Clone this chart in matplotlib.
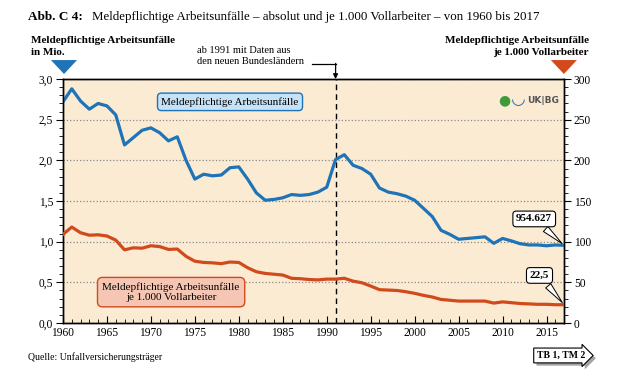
import matplotlib.pyplot as plt
import matplotlib.patheffects as pe
from matplotlib.patches import Polygon
from matplotlib.ticker import MultipleLocator, FuncFormatter

plt.rcParams['font.family'] = ['Liberation Serif', 'DejaVu Serif']

years = list(range(1960, 2018))

# meldepflichtige Arbeitsunfaelle in Mio.
unfaelle_mio = [2.72, 2.88, 2.73, 2.63, 2.70, 2.67, 2.56, 2.19, 2.28, 2.37,
                2.40, 2.34, 2.24, 2.29, 2.00, 1.77, 1.83, 1.81, 1.82, 1.91,
                1.92, 1.77, 1.60, 1.51, 1.52, 1.54, 1.58, 1.57, 1.58, 1.61,
                1.67, 2.01, 2.07, 1.94, 1.90, 1.83, 1.66, 1.61, 1.59, 1.56,
                1.51, 1.41, 1.31, 1.14, 1.09, 1.03, 1.04, 1.05, 1.06, 0.98,
                1.04, 1.01, 0.975, 0.96, 0.96, 0.95, 0.96, 0.955]

# je 1.000 Vollarbeiter
unfaelle_je_1000 = [109, 118, 111, 108, 108.5, 107, 102, 90, 92.5, 92,
                    95, 94, 90.5, 91, 82, 76, 74.5, 74, 73, 75,
                    74.5, 68, 63, 61, 60, 59, 55, 54.5, 53.5, 53,
                    54, 54, 55, 51.5, 49.5, 45.5, 41, 40.5, 40, 38.5,
                    36.5, 34, 32, 29, 28, 27, 27, 27, 27, 24.5,
                    26, 25, 24, 23.5, 23, 23, 22.5, 22.5]

blue = '#1f73b7'
orange = '#d24a1c'

fig = plt.figure(figsize=(6.21, 3.73), dpi=100)
ax = fig.add_axes([0.1014, 0.134, 0.807, 0.654])
ax.set_facecolor('#fbebd3')
ax2 = ax.twinx()

ax.plot(years, unfaelle_mio, color=blue, lw=2.3, solid_joinstyle='round', zorder=3)
ax2.plot(years, unfaelle_je_1000, color=orange, lw=2.3, solid_joinstyle='round', zorder=3)

ax.set_xlim(1960, 2017)
ax.set_ylim(0, 3)
ax2.set_ylim(0, 300)

ax.yaxis.set_major_locator(MultipleLocator(0.5))
ax.yaxis.set_minor_locator(MultipleLocator(0.1))
ax.yaxis.set_major_formatter(FuncFormatter(lambda v, p: f'{v:.1f}'.replace('.', ',')))
ax2.yaxis.set_major_locator(MultipleLocator(50))
ax2.yaxis.set_minor_locator(MultipleLocator(10))
ax.xaxis.set_major_locator(MultipleLocator(5))
ax.xaxis.set_minor_locator(MultipleLocator(1))

ax.tick_params(axis='y', which='major', length=5, width=0.8, labelsize=8.3, pad=2)
ax.tick_params(axis='y', which='minor', length=3, width=0.6)
ax2.tick_params(axis='y', which='major', length=5, width=0.8, labelsize=8.3, pad=2)
ax2.tick_params(axis='y', which='minor', length=3, width=0.6)
ax.tick_params(axis='x', which='major', direction='in', length=5, width=0.8, labelsize=8.3, pad=3)
ax.tick_params(axis='x', which='minor', direction='in', length=3, width=0.6)

ax.grid(axis='y', which='major', color='#888888', linestyle=':', linewidth=0.9)
ax.set_axisbelow(True)
for a in (ax, ax2):
    for s in a.spines.values():
        s.set_linewidth(1.0)

ax.axvline(1991, color='black', linestyle=(0, (4, 3)), lw=1.0, zorder=2)

# Serienbeschriftungen
ax.text(1979, 2.72, 'Meldepflichtige Arbeitsunfälle', fontsize=8, ha='center', va='center',
        bbox=dict(boxstyle='round,pad=0.35', fc='#c5e2f6', ec=blue, lw=1.0), zorder=5)
ax.text(1972.3, 0.38, 'Meldepflichtige Arbeitsunfälle\nje 1.000 Vollarbeiter', fontsize=8,
        ha='center', va='center', linespacing=1.1,
        bbox=dict(boxstyle='round,pad=0.45', fc='#f6c6b4', ec=orange, lw=1.0), zorder=5)

# Endwerte
ax.annotate('954.627', xy=(2017, unfaelle_mio[-1]), xytext=(2013.6, 1.28),
            fontsize=8, fontweight='bold', ha='center', va='center',
            bbox=dict(boxstyle='round,pad=0.3', fc='white', ec='black', lw=0.8),
            arrowprops=dict(arrowstyle='wedge,tail_width=0.6', fc='white', ec='black', lw=0.7),
            zorder=6)
ax2.annotate('22,5', xy=(2017, unfaelle_je_1000[-1]), xytext=(2014.2, 58.5),
             fontsize=8, fontweight='bold', ha='center', va='center',
             bbox=dict(boxstyle='round,pad=0.3', fc='white', ec='black', lw=0.8),
             arrowprops=dict(arrowstyle='wedge,tail_width=0.6', fc='white', ec='black', lw=0.7),
             zorder=6)

# Logo-Ersatz
ax.text(2010.2, 2.74, '●', color='#3f9a3a', fontsize=10, ha='center', va='center',
        family='DejaVu Sans')
ax.text(2011.8, 2.76, '◡', color=blue, fontsize=12, fontweight='bold', ha='center',
        va='center', family='DejaVu Sans')
ax.text(2012.8, 2.74, 'UK|BG', color='#555555', fontsize=6.5, fontweight='bold',
        ha='left', va='center', family='DejaVu Sans')

# Titel und Achsenbeschriftungen
fig.text(0.045, 0.955, 'Abb. C 4:', fontsize=9.5, fontweight='bold', va='center')
fig.text(0.148, 0.955, 'Meldepflichtige Arbeitsunfälle – absolut und je 1.000 Vollarbeiter – von 1960 bis 2017',
         fontsize=9.3, va='center')
fig.text(0.05, 0.876, 'Meldepflichtige Arbeitsunfälle\nin Mio.', fontsize=8, fontweight='bold',
         va='center', ha='left', linespacing=1.4)
fig.text(0.948, 0.876, 'Meldepflichtige Arbeitsunfälle\nje 1.000 Vollarbeiter', fontsize=8,
         fontweight='bold', va='center', ha='right', linespacing=1.4)
fig.text(0.318, 0.85, 'ab 1991 mit Daten aus\nden neuen Bundesländern', fontsize=7.5,
         va='center', ha='left', linespacing=1.35)

# Pfeil zur 1991-Linie
fig.add_artist(plt.Line2D([0.503, 0.5405], [0.829, 0.829], color='black', lw=0.9,
                          transform=fig.transFigure))
ax.annotate('', xy=(1991, 3.0), xycoords='data', xytext=(0.5405, 0.830), textcoords='figure fraction',
            arrowprops=dict(arrowstyle='-|>', color='black', lw=0.9, mutation_scale=7,
                            shrinkA=0, shrinkB=0), annotation_clip=False)

# Dreiecke ueber den Achsen
fig.add_artist(Polygon([[0.082, 0.839], [0.124, 0.839], [0.1031, 0.8016]], closed=True,
                       fc=blue, ec='none', transform=fig.transFigure))
fig.add_artist(Polygon([[0.887, 0.839], [0.929, 0.839], [0.908, 0.8016]], closed=True,
                       fc=orange, ec='none', transform=fig.transFigure))

fig.text(0.045, 0.043, 'Quelle: Unfallversicherungsträger', fontsize=7, va='center')
tb = fig.text(0.903, 0.047, 'TB 1, TM 2', fontsize=7, fontweight='bold', va='center', ha='center',
              bbox=dict(boxstyle='rarrow,pad=0.3', fc='white', ec='black', lw=0.8))
tb.get_bbox_patch().set_path_effects([pe.withSimplePatchShadow(offset=(2, -2),
                                                               shadow_rgbFace='#999999', alpha=0.9)])

fig.savefig('out.png', dpi=100)
